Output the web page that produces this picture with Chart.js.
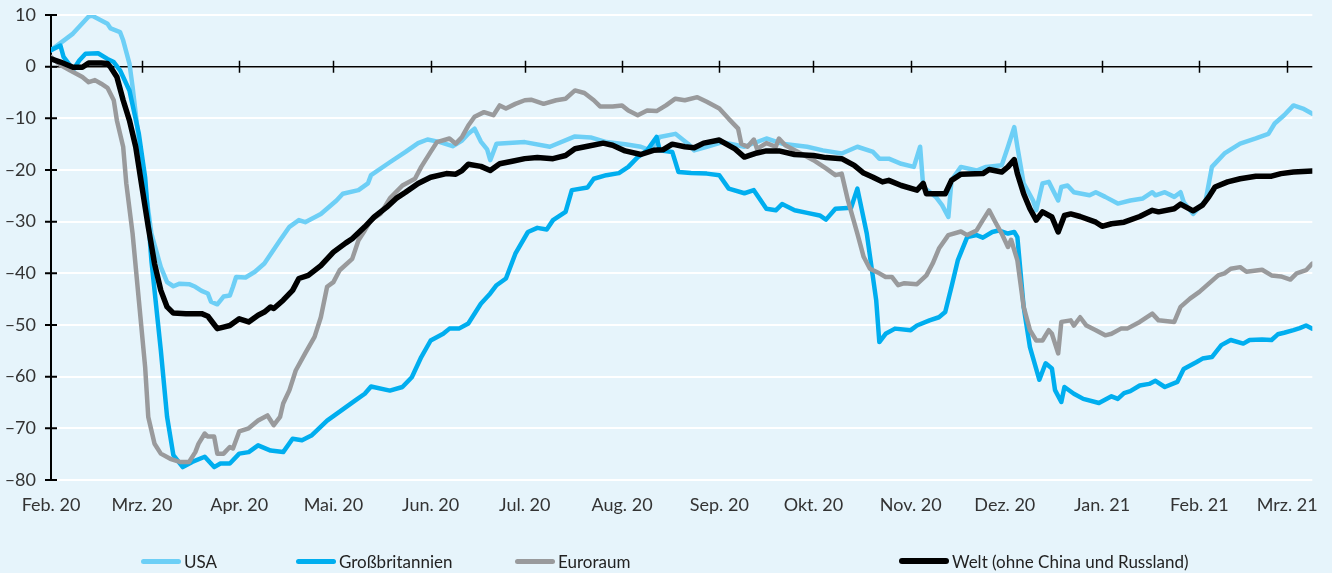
<!DOCTYPE html>
<html lang="de">
<head>
    <meta charset="UTF-8">
    <title>Mobilität seit Februar 2020</title>
    <script src="https://cdn.jsdelivr.net/npm/chart.js"></script>
    <style>
        html, body { margin: 0; padding: 0; background: #e6f4fb; }
        .wrap { position: relative; width: 1332px; height: 573px; }
        #chart { position: absolute; left: 0; top: 0; }
        .legend-item { position: absolute; top: 551px; height: 20px; display: flex; align-items: center;
                       font: 17px Lato, sans-serif; color: #222; white-space: nowrap; }
        .legend-item .swatch { display: inline-block; height: 5px; border-radius: 3px; margin-right: 3px; }
    </style>
</head>
<body>
<div class="wrap">
    <canvas id="chart" width="1332" height="573"></canvas>
    <div id="legend"></div>
</div>

<script>
// x = days since 1 Feb 2020
const monthDays = [0, 29, 60, 90, 121, 151, 182, 213, 243, 274, 304, 335, 366, 394];
const monthLabels = ['Feb. 20', 'Mrz. 20', 'Apr. 20', 'Mai. 20', 'Jun. 20', 'Jul. 20', 'Aug. 20',
                     'Sep. 20', 'Okt. 20', 'Nov. 20', 'Dez. 20', 'Jan. 21', 'Feb. 21', 'Mrz. 21'];
const yTicks = [10, 0, -10, -20, -30, -40, -50, -60, -70, -80];

const usaDays = [0, 7, 12, 13, 18, 19, 22, 23, 25, 26, 28, 30, 32, 35, 37, 39, 41, 44, 46, 48, 50, 51, 53, 55, 57, 58, 59, 62, 65,
    68, 73, 76, 79, 81, 86, 91, 93, 98, 101, 102, 108, 113, 117, 120, 124, 128, 131, 133, 135, 137, 139, 140, 142, 151,
    159, 167, 172, 177, 183, 188, 191, 194, 199, 203, 205, 209, 214, 221, 228, 233, 241, 246, 252, 257, 262, 264, 267,
    271, 275, 277, 278, 282, 284, 286, 287, 290, 295, 298, 303, 305, 307, 308, 310, 313, 314, 316, 318, 321, 322, 324,
    326, 331, 333, 336, 340, 344, 348, 351, 352, 355, 358, 360, 361, 364, 368, 370, 374, 379, 384, 388, 390, 393, 396,
    399, 402];
const usaValues = [3.2, 6.4, 9.7, 9.9, 8.3, 7.4, 6.7, 5.1, 0.6, -3.9, -14.3, -23.3, -32.3, -38.8, -41.7, -42.5, -42, -42.1,
    -42.6, -43.4, -43.9, -45.5, -46, -44.5, -44.3, -42.6, -40.7, -40.8, -39.7,
    -38.1, -33.6, -31, -29.7, -30.1, -28.5, -25.9, -24.6, -23.9, -22.6, -21, -18.5, -16.5, -14.8, -14.1, -14.6, -15.4,
    -14.3, -13, -12, -14.5, -16, -18.1, -14.9, -14.6,
    -15.5, -13.5, -13.7, -14.6, -15, -15.5, -16.2, -13.6, -13, -14.9, -16.2, -15.5, -14.6, -15.5, -13.9, -14.9, -15.5,
    -16.2, -16.8, -15.5, -16.5, -17.8, -17.8,
    -18.8, -19.4, -15.5, -23.3, -25.2, -26.8, -29.1, -22, -19.4, -20.1, -19.4, -19.1, -15.5, -11.7, -15.5, -22.6, -25.9,
    -27.8, -22.6, -22.3, -25.9, -23.3, -23,
    -24.3, -24.9, -24.3, -25.2, -26.5, -25.9, -25.5, -24.3, -24.9, -24.3, -25.2, -24.3, -26.2, -28.5, -25.9, -19.4,
    -16.8, -14.9, -13.9, -13, -11, -9.4, -7.5,
    -8.1, -9.1];

const gbDays = [0, 3, 4, 6, 7, 9, 11, 15, 18, 20, 22, 25, 28, 30, 32, 35, 37, 39, 42, 45, 49, 52, 54, 57, 60, 63, 66, 70,
    74, 77, 80, 83, 88, 94, 97, 100, 102, 108, 112, 115, 118, 121, 125, 127, 130, 133, 137, 140, 142, 145, 148, 152,
    155, 158, 160, 164, 166, 171, 173, 177, 181, 184, 187, 190, 193, 194, 198, 200, 204, 209, 213, 216, 221, 224, 228,
    231, 233, 237, 241, 245, 247, 250, 255, 257, 260, 263, 264, 266, 269, 274, 276, 280, 283, 285, 287, 289, 292, 295,
    297, 300, 302, 305, 307, 308, 310, 312, 315, 317, 319, 320, 322, 323, 326, 329, 334, 338, 340, 342, 344, 347, 350,
    352, 355, 359, 361, 365, 367, 370, 373, 376, 380, 382, 386, 389, 391, 393, 396, 398, 400, 402];
const gbValues = [3.2, 4.1, 1.9, 0.3, -0.7, 1.2, 2.5, 2.6, 1.5, 0.9, -0.7, -4.6, -13, -21.4, -37.5, -54.9, -67.8, -75.2,
    -77.5, -76.5, -75.5, -77.5, -76.8, -76.8, -74.9, -74.6, -73.3, -74.3,
    -74.6, -72, -72.3, -71.4, -68.5, -65.9, -64.6, -63.3, -61.9, -62.7, -62, -60.1, -56.2, -53, -51.7, -50.7, -50.7,
    -49.7, -45.9, -43.9, -42.3, -41, -36.2, -32,
    -31.2, -31.5, -29.7, -28.1, -23.9, -23.4, -21.7, -21, -20.6, -19.4, -17.5, -16.2, -13.6, -16.2, -16.5, -20.4, -20.6,
    -20.7, -21, -23.6, -24.5, -23.9, -27.5,
    -27.8, -26.6, -27.8, -28.3, -28.8, -29.6, -27.5, -27.3, -23.6, -32.3, -45.2, -53.3, -51.7, -50.7, -51, -50.1, -49.1,
    -48.5, -47.5, -42.6, -37.5, -33, -32.6,
    -33.1, -32, -31.7, -32.3, -32, -33, -46.5, -54.3, -60.6, -57.4, -58.4, -62.6, -64.9, -62, -63.3, -64.3, -65.1,
    -63.8, -64.3, -63.2, -62.8, -61.7, -61.4,
    -60.8, -62, -61, -58.5, -57.2, -56.5, -56.2, -53.9, -52.9, -53.6, -52.9, -52.8, -52.9, -51.8, -51.5, -51, -50.6,
    -50.1, -50.7];

const euroDays = [0, 3, 6, 10, 12, 14, 16, 18, 20, 21, 23, 24, 26, 28, 30, 31, 33, 35, 38, 41, 44, 46, 47, 49, 50, 52,
    53, 55, 57, 58, 60, 63, 66, 69, 71, 73, 74, 76, 78, 81, 84, 86, 88, 90, 92, 96, 98, 100, 102, 105, 108, 112, 116,
    118, 121, 123, 127, 129, 131, 133, 135, 138, 141, 143, 145, 148, 151, 153, 157, 161, 164, 167, 170, 173, 175, 179,
    182, 184, 187, 190, 193, 196, 199, 202, 206, 209, 213, 216, 219, 220, 222, 224, 225, 228, 231, 232, 234, 239, 243,
    247, 250, 252, 254, 257, 259, 261, 264, 266, 268, 270, 272, 276, 279, 281, 283, 286, 290, 292, 295, 297, 299, 301,
    303, 305, 306, 308, 310, 312, 314, 316, 318, 319, 321, 322, 325, 326, 328, 330, 333, 336, 338, 341, 343, 347, 351,
    353, 358, 360, 363, 366, 369, 372, 374, 376, 379, 381, 386, 389, 392, 395, 397, 400, 402];
const euroValues = [1.9, 0.3, -0.7, -2, -3, -2.6, -3.3, -4.1, -6.5, -10.4, -15.5, -22.6, -32.3, -45.2, -58.1, -67.8, -73,
    -74.9, -75.9, -76.5, -76.5, -74.6, -73, -71, -71.6, -71.6,
    -74.9, -74.9, -73.6, -73.9, -70.6, -70, -68.5, -67.5, -69.4, -67.8, -65.2, -62.6, -58.8, -55.5, -52.3, -48.5, -42.6,
    -41.7, -39.4, -37.2, -33.6, -31.7, -29.7, -28.5, -25.5, -23, -21.7,
    -19.4, -16.5, -14.6, -13.9, -14.9, -13.6, -11.4, -9.7, -8.8, -9.4, -7.5, -8.1, -7.2, -6.5, -6.4, -7.2, -6.5, -6.2,
    -4.6, -5.1, -6.5, -7.7, -7.7,
    -7.5, -8.5, -9.4, -8.5, -8.6, -7.5, -6.2, -6.5, -5.9, -6.8, -8.1, -10.1, -12, -14.9, -15.5, -14.1, -15.9, -14.8, -15.5,
    -13.9, -15.2, -16.8, -18.1,
    -19.7, -21, -20.7, -25.9, -32.3, -36.8, -39.1, -40, -40.7, -40.7, -42.3, -41.9, -42.1, -40.4, -38.1, -35.2, -32.6,
    -31.9, -32.6, -31.7, -29.7, -27.8, -30.1,
    -32.3, -34.9, -33.5, -37.5, -46.5, -51, -53, -53, -51, -51.7, -55.5, -49.4, -49.1, -50.1, -48.5, -50.1, -51, -52,
    -51.7, -50.7, -50.7, -49.4, -47.8,
    -49.1, -49.4, -46.5, -44.9, -43.6, -42, -40.4, -40, -39.1, -38.8, -39.7, -39.3, -40.4, -40.6, -41.2, -40, -39.4, -38.1];

const weltDays = [0, 3, 7, 10, 12, 16, 18, 19, 21, 23, 25, 27, 29, 31, 33, 35, 37, 39, 43, 48, 50, 52, 53, 55, 57, 60,
    63, 66, 68, 70, 71, 74, 77, 79, 82, 86, 90, 94, 96, 100, 103, 107, 110, 113, 117, 121, 126, 129, 131, 133, 137, 140,
    143, 147, 151, 155, 160, 164, 167, 171, 176, 179, 183, 188, 192, 195, 198, 202, 205, 208, 213, 218, 221, 225, 228,
    232, 237, 243, 247, 252, 256, 259, 262, 265, 267, 271, 276, 278, 279, 285, 287, 290, 297, 299, 303, 305, 307, 308,
    310, 312, 314, 316, 319, 321, 323, 325, 328, 333, 335, 338, 342, 347, 351, 353, 358, 360, 364, 367, 369, 371, 375,
    379, 384, 389, 392, 396, 402];
const weltValues = [1.5, 0.9, -0.1, -0.1, 0.7, 0.7, 0.6, -0.1, -2, -6.5, -10.4, -15.5, -23.3, -31, -38.1, -43.3, -46.5,
    -47.7, -47.8, -47.8, -48.3, -49.9, -50.7, -50.4, -50.1, -48.8,
    -49.4, -48.1, -47.5, -46.5, -46.8, -45.2, -43.3, -41, -40.4, -38.5, -35.9, -34.1, -33.3, -31, -29.1, -27.2, -25.5,
    -24.3, -22.6, -21.4, -20.7, -20.8, -20.1, -18.9, -19.3, -20.1,
    -18.8, -18.3, -17.8, -17.6, -17.8, -17.2, -15.9, -15.4, -14.8, -15.2, -16.3, -17, -16.2, -16.1, -15, -15.5, -15.7,
    -14.8, -14.2, -15.9, -17.5, -16.7, -16.3,
    -16.3, -17, -17.2, -17.6, -17.8, -19.1, -20.6, -21.4, -22.3, -22, -23, -23.9, -22.6, -24.6, -24.6, -22, -20.8, -20.7,
    -19.9, -20.4, -19.4, -18, -20.7,
    -24.6, -27.5, -29.7, -28.1, -29.1, -32, -28.8, -28.5, -29, -30.1, -30.9, -30.4, -30.1, -29, -27.8, -28.1, -27.5,
    -26.6, -27.9, -26.8, -25.2, -23.3, -22.3,
    -21.7, -21.2, -21.2, -20.7, -20.4, -20.2];

const seriesNames = ['USA', 'Großbritannien', 'Euroraum', 'Welt (ohne China und Russland)'];
const seriesColors = ['#6dcff6', '#00aeef', '#999a9c', '#000000'];

function points(days, values) {
    return days.map((d, i) => ({ x: d, y: values[i] }));
}

function fmtTick(v) {
    return v < 0 ? '\u2013' + Math.abs(v) : String(v);
}

// zero line with month ticks, y axis with crossing ticks
const axisMarks = {
    id: 'axisMarks',
    beforeDatasetsDraw(chart) {
        const { ctx, chartArea, scales: { x, y } } = chart;
        const y0 = y.getPixelForValue(0);
        ctx.save();
        ctx.strokeStyle = '#000';
        ctx.lineWidth = 1.5;
        ctx.beginPath();
        ctx.moveTo(chartArea.left, y0);
        ctx.lineTo(chartArea.right, y0);
        monthDays.forEach(d => {
            if (d === 0) return;
            const px = Math.round(x.getPixelForValue(d)) + 0.5;
            ctx.moveTo(px, y0 - 6);
            ctx.lineTo(px, y0 + 6);
        });
        ctx.stroke();

        ctx.lineWidth = 2;
        ctx.beginPath();
        ctx.moveTo(chartArea.left, y.getPixelForValue(10));
        ctx.lineTo(chartArea.left, y.getPixelForValue(-80));
        yTicks.forEach(v => {
            const py = y.getPixelForValue(v);
            ctx.moveTo(chartArea.left - 6, py);
            ctx.lineTo(chartArea.left + 6, py);
        });
        ctx.stroke();
        ctx.restore();
    }
};

const datasets = [
    [usaDays, usaValues, 4.5, 3],
    [gbDays, gbValues, 4.5, 2],
    [euroDays, euroValues, 4.5, 1],
    [weltDays, weltValues, 5.5, 0]
].map(([d, v, w, ord], i) => ({
    label: seriesNames[i],
    data: points(d, v),
    borderColor: seriesColors[i],
    backgroundColor: seriesColors[i],
    borderWidth: w,
    pointRadius: 0,
    tension: 0,
    borderJoinStyle: 'round',
    borderCapStyle: 'round',
    order: ord
}));

new Chart(document.getElementById('chart'), {
    type: 'line',
    data: { datasets },
    options: {
        responsive: false,
        animation: false,
        layout: { padding: { top: 15, right: 14, left: 0, bottom: 0 } },
        plugins: { legend: { display: false }, tooltip: { enabled: false } },
        scales: {
            x: {
                type: 'linear',
                min: 0,
                max: 402,
                afterBuildTicks: s => { s.ticks = monthDays.map(v => ({ value: v })); },
                afterFit: s => { s.height = 93; },
                ticks: {
                    autoSkip: false,
                    maxRotation: 0,
                    padding: 14,
                    color: '#333',
                    font: { family: 'Lato', size: 18 },
                    callback: (v, i) => monthLabels[i]
                },
                grid: { display: false, drawTicks: false },
                border: { display: false }
            },
            y: {
                min: -80,
                max: 10,
                afterBuildTicks: s => { s.ticks = yTicks.map(v => ({ value: v })); },
                afterFit: s => { s.width = 51; s.paddingTop = 0; s.paddingBottom = 0; },
                ticks: {
                    padding: 15,
                    color: '#333',
                    font: { family: 'Lato', size: 18 },
                    callback: v => fmtTick(v)
                },
                grid: { color: '#ffffff', lineWidth: 2, drawTicks: false },
                border: { display: false }
            }
        }
    },
    plugins: [axisMarks]
});

// legend laid out like the original
const legendSpots = [[141, 40], [296, 40], [515, 40], [899, 50]];
const legend = document.getElementById('legend');
seriesNames.forEach((name, i) => {
    const item = document.createElement('div');
    item.className = 'legend-item';
    item.style.left = legendSpots[i][0] + 'px';
    const sw = document.createElement('span');
    sw.className = 'swatch';
    sw.style.width = legendSpots[i][1] + 'px';
    sw.style.background = seriesColors[i];
    if (i === 3) sw.style.height = '6px';
    item.appendChild(sw);
    item.appendChild(document.createTextNode(name));
    legend.appendChild(item);
});
</script>
</body>
</html>
